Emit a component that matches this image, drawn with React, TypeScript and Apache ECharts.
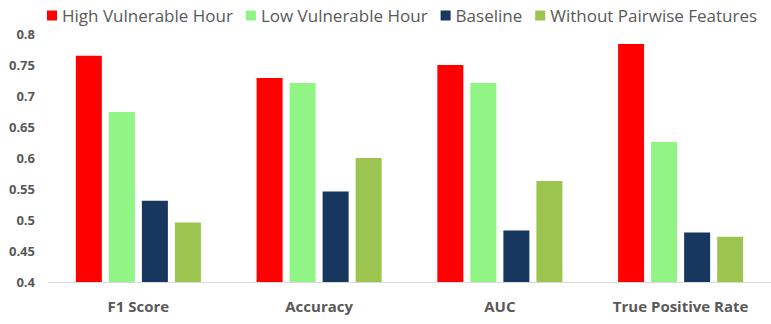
import React, { useEffect, useRef } from "react";
import * as echarts from "echarts";

const categories = ["F1 Score", "Accuracy", "AUC", "True Positive Rate"];
const seriesNames = ["High Vulnerable Hour", "Low Vulnerable Hour", "Baseline", "Without Pairwise Features"];
const highVulnerable = [0.765, 0.729, 0.75, 0.784];
const lowVulnerable = [0.674, 0.721, 0.721, 0.626];
const baseline = [0.531, 0.546, 0.483, 0.48];
const withoutPairwise = [0.496, 0.6, 0.563, 0.473];
const colors = ["#ff0000", "#90f584", "#17375e", "#9bc54f"];

export default function App() {
  const ref = useRef<HTMLDivElement>(null);
  useEffect(() => {
    if (!ref.current) return;
    const chart = echarts.init(ref.current, null, { renderer: "svg" });
    const data = [highVulnerable, lowVulnerable, baseline, withoutPairwise];
    chart.setOption({
      animation: false,
      textStyle: { fontFamily: "Open Sans" },
      legend: {
        top: 2,
        left: 42,
        itemWidth: 10,
        itemHeight: 10,
        itemGap: 13,
        icon: "rect",
        textStyle: { fontSize: 17, color: "#595959", fontFamily: "Open Sans" },
        data: seriesNames,
      },
      grid: { left: 48, top: 34, width: 729, height: 248, containLabel: false },
      xAxis: {
        type: "category",
        data: categories,
        axisLine: { lineStyle: { color: "#d9d9d9", width: 1 } },
        axisTick: { show: false },
        axisLabel: { fontSize: 15, fontWeight: "bold", color: "#595959", margin: 16, fontFamily: "Open Sans" },
      },
      yAxis: {
        type: "value",
        min: 0.4,
        max: 0.8,
        interval: 0.05,
        splitLine: { show: false },
        axisLine: { show: false },
        axisTick: { show: false },
        axisLabel: {
          fontSize: 13,
          fontWeight: "bold",
          color: "#595959",
          margin: 13,
          fontFamily: "Open Sans",
          formatter: (v: number) => String(parseFloat(v.toFixed(2))),
        },
      },
      series: seriesNames.map((name, i) => ({
        name,
        type: "bar",
        data: data[i],
        barWidth: 26,
        barGap: "27%",
        itemStyle: { color: colors[i] },
      })),
    });
    return () => chart.dispose();
  }, []);
  return <div ref={ref} style={{ width: 771, height: 324, position: "absolute", left: 0, top: 0, background: "#fff" }} />;
}
